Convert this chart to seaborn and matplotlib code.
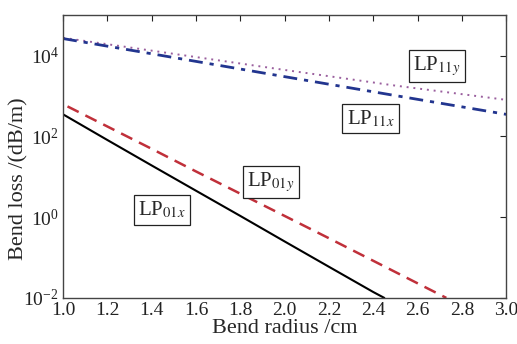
import numpy as np
import pandas as pd
import matplotlib
matplotlib.use("Agg")
import matplotlib.pyplot as plt
import seaborn as sns
from matplotlib.ticker import LogLocator, LogFormatterSciNotation

# values (bend radius in cm, loss in dB/m)
r_01x = [1.0, 1.2, 1.4, 1.6, 1.8, 2.0, 2.2, 2.4, 2.45]
loss_01x = [350, 81, 19, 4.5, 1.07, 0.25, 0.059, 0.014, 0.01]

r_01y = [1.02, 1.2, 1.4, 1.6, 1.8, 2.0, 2.2, 2.4, 2.6, 2.73]
loss_01y = [550, 175, 49, 13.5, 3.8, 1.07, 0.30, 0.083, 0.023, 0.01]

r_11 = [1.0, 1.5, 2.0, 2.5, 3.0]
loss_11x = [26300, 8900, 3000, 1020, 350]
loss_11y = [27500, 11000, 4400, 1800, 800]

xticks = [1.0, 1.2, 1.4, 1.6, 1.8, 2.0, 2.2, 2.4, 2.6, 2.8, 3.0]

sns.set_style("white")
plt.rcParams['font.family'] = ['Liberation Serif', 'DejaVu Serif']
plt.rcParams['mathtext.fontset'] = 'stix'

fig = plt.figure(figsize=(5.17, 3.44), dpi=100)
ax = fig.add_axes([0.122, 0.134, 0.857, 0.822])

sns.lineplot(x=r_11, y=loss_11y, ax=ax, color='#9a5f9e', linestyle=(0, (1, 2.5)), linewidth=1.4)
sns.lineplot(x=r_11, y=loss_11x, ax=ax, color='#22358f', linestyle=(0, (5, 2.5, 1.5, 2.5)), linewidth=2.0)
sns.lineplot(x=r_01y, y=loss_01y, ax=ax, color='#c0303a', linestyle=(0, (5, 3)), linewidth=1.8)
sns.lineplot(x=r_01x, y=loss_01x, ax=ax, color='black', linestyle='-', linewidth=1.5)

ax.set_yscale('log')
ax.set_xlim(1.0, 3.0)
ax.set_ylim(1e-2, 1e5)
ax.yaxis.set_major_locator(LogLocator(base=100))
ax.yaxis.set_major_formatter(LogFormatterSciNotation(base=10))
ax.yaxis.set_minor_locator(plt.NullLocator())
ax.set_xticks(xticks)
ax.set_xticklabels([f"{v:.1f}" for v in xticks])

ax.tick_params(direction='in', top=True, right=True, length=4, width=0.8,
               labelsize=14, colors='#222222', pad=3)
for s in ax.spines.values():
    s.set_color('#444444')
    s.set_linewidth(1.0)

ax.set_xlabel("Bend radius /cm", fontsize=16, labelpad=0)
ax.set_ylabel("Bend loss /(dB/m)", fontsize=16, labelpad=-4, y=0.42)

box = dict(boxstyle='square,pad=0.2', facecolor='white', edgecolor='#222222', linewidth=0.9)
ax.text(2.58, 5.6e3, r'LP$_{11y}$', fontsize=15, ha='left', va='center', bbox=box)
ax.text(2.28, 2.7e2, r'LP$_{11x}$', fontsize=15, ha='left', va='center', bbox=box)
ax.text(1.83, 7.5e0, r'LP$_{01y}$', fontsize=15, ha='left', va='center', bbox=box)
ax.text(1.34, 1.5e0, r'LP$_{01x}$', fontsize=15, ha='left', va='center', bbox=box)

fig.savefig("out.png", dpi=100)
